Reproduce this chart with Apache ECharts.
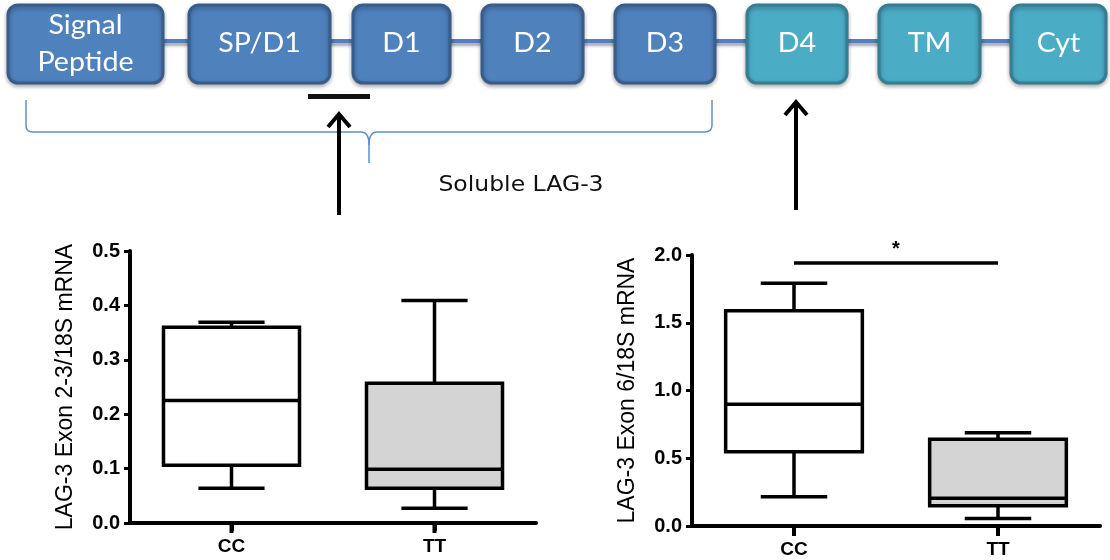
<!DOCTYPE html>
<html>
<head>
<meta charset="utf-8">
<script src="https://cdn.jsdelivr.net/npm/echarts@6/dist/echarts.min.js"></script>
<style>
  html, body { margin: 0; padding: 0; background: #fff; }
  #chart { width: 1110px; height: 560px; }
</style>
</head>
<body>
<div id="chart"></div>
<script>
// genotype groups on both x axes
const genotypes = ['CC', 'TT']
// box statistics per genotype: [min, Q1, median, Q3, max]
const exon23Box = [
  [0.064, 0.106, 0.225, 0.360, 0.369],
  [0.027, 0.064, 0.099, 0.257, 0.409]
]
const exon6Box = [
  [0.216, 0.548, 0.898, 1.589, 1.791],
  [0.056, 0.150, 0.204, 0.640, 0.689]
]
// y tick values
const exon23Ticks = [0, 0.1, 0.2, 0.3, 0.4, 0.5]
const exon6Ticks = [0, 0.5, 1.0, 1.5, 2.0]
// significance bar between CC and TT (exon 6)
const sigLevel = 1.94
const sigLabel = '*'

// LAG-3 domain schematic
const domainNames = ['Signal\nPeptide', 'SP/D1', 'D1', 'D2', 'D3', 'D4', 'TM', 'Cyt']
const solubleLabel = 'Soluble LAG-3'

// schematic layout (pixels)
const domainLeft = [8, 189, 353, 482, 615, 747, 879, 1011]
const domainRight = [163, 330, 450, 583, 715, 847, 980, 1106]
const boxFill = ['#ffffff', '#d4d4d4']
const FONT = 'Liberation Sans, Arial, sans-serif'

const chart = echarts.init(document.getElementById('chart'))

function renderBox (params, api) {
  const c = api.value(0)
  const pt = (i) => api.coord([c, api.value(i)])
  const lo = pt(1)
  const q1 = pt(2)
  const med = pt(3)
  const q3 = pt(4)
  const hi = pt(5)
  const band = api.size([1, 0])[0]
  const hb = band * 0.335
  const hc = band * 0.163
  const x = lo[0]
  const line = { stroke: '#000', lineWidth: 3.5 }
  return {
    type: 'group',
    children: [
      { type: 'line', shape: { x1: x, y1: hi[1], x2: x, y2: q3[1] }, style: line },
      { type: 'line', shape: { x1: x, y1: q1[1], x2: x, y2: lo[1] }, style: line },
      { type: 'line', shape: { x1: x - hc, y1: hi[1], x2: x + hc, y2: hi[1] }, style: line },
      { type: 'line', shape: { x1: x - hc, y1: lo[1], x2: x + hc, y2: lo[1] }, style: line },
      {
        type: 'rect',
        shape: { x: x - hb, y: q3[1], width: hb * 2, height: q1[1] - q3[1] },
        style: { fill: boxFill[c], stroke: '#000', lineWidth: 3.5 }
      },
      { type: 'line', shape: { x1: x - hb, y1: med[1], x2: x + hb, y2: med[1] }, style: line }
    ]
  }
}

function xAxisFor (gridIndex) {
  return {
    gridIndex: gridIndex,
    type: 'category',
    data: genotypes,
    boundaryGap: true,
    axisLine: { lineStyle: { color: '#000', width: 4 } },
    axisTick: {
      show: true,
      inside: false,
      alignWithLabel: true,
      interval: 0,
      length: 8,
      lineStyle: { color: '#000', width: 4 }
    },
    axisLabel: { color: '#000', fontFamily: FONT, fontWeight: 'bold', fontSize: 19, margin: 14 }
  }
}

function yAxisFor (gridIndex, ticks, name) {
  return {
    gridIndex: gridIndex,
    type: 'value',
    min: ticks[0],
    max: ticks[ticks.length - 1],
    interval: ticks[1] - ticks[0],
    name: name,
    nameLocation: 'middle',
    nameRotate: 90,
    nameGap: 53,
    nameTextStyle: { color: '#000', fontFamily: FONT, fontSize: 23 },
    axisLine: { show: true, lineStyle: { color: '#000', width: 4 } },
    axisTick: { show: true, length: 6, lineStyle: { color: '#000', width: 3 } },
    splitLine: { show: false },
    axisLabel: {
      color: '#000',
      fontFamily: FONT,
      fontWeight: 'bold',
      fontSize: 20,
      margin: 10,
      formatter: (v) => v.toFixed(1)
    }
  }
}

// category tick marks hanging under each x axis
function categoryTicks (axisIndex) {
  return {
    type: 'scatter',
    xAxisIndex: axisIndex,
    yAxisIndex: axisIndex,
    clip: false,
    silent: true,
    symbol: 'rect',
    symbolSize: [4, 10],
    symbolOffset: [0, 5],
    itemStyle: { color: '#000', opacity: 1 },
    z: 10,
    data: genotypes.map((g) => [g, 0])
  }
}

// schematic drawing
const graphics = []
graphics.push({
  type: 'line',
  shape: { x1: 160, y1: 41, x2: 1012, y2: 41 },
  style: { stroke: '#4F81BD', lineWidth: 4, shadowBlur: 3, shadowOffsetY: 3, shadowColor: 'rgba(0,0,0,0.35)' }
})
domainNames.forEach((name, i) => {
  const ext = i < 5
  const l = domainLeft[i]
  const r = domainRight[i]
  graphics.push({
    type: 'rect',
    shape: { x: l, y: 5, width: r - l, height: 78, r: 10 },
    style: {
      fill: ext ? '#4F81BD' : '#4BACC6',
      stroke: ext ? '#385D8A' : '#357D91',
      lineWidth: 3,
      shadowBlur: 4,
      shadowOffsetY: 2,
      shadowColor: 'rgba(0,0,0,0.3)'
    }
  })
  graphics.push({
    type: 'text',
    x: (l + r) / 2,
    y: 44,
    scaleX: 1.1,
    style: {
      text: name,
      fill: '#fff',
      fontFamily: 'Lato, sans-serif',
      fontSize: 26,
      lineHeight: 37,
      textAlign: 'center',
      align: 'center',
      textVerticalAlign: 'middle',
      verticalAlign: 'middle'
    }
  })
})
// epitope bar
graphics.push({ type: 'rect', shape: { x: 308, y: 94, width: 62, height: 5 }, style: { fill: '#111' } })
// soluble bracket, built from straight pieces and small curves
const bracketStyle = { stroke: '#5B8FD0', lineWidth: 1.5, fill: 'none' }
const seg = (x1, y1, x2, y2) => graphics.push({ type: 'line', shape: { x1, y1, x2, y2 }, style: bracketStyle })
const curve = (x1, y1, cpx1, cpy1, x2, y2) => graphics.push({
  type: 'bezierCurve', shape: { x1, y1, cpx1, cpy1, x2, y2 }, style: bracketStyle
})
seg(26, 100, 26, 126)
curve(26, 126, 26, 132, 33, 132)
seg(33, 132, 361, 132)
curve(361, 132, 369, 132, 369, 145)
curve(377, 132, 369, 132, 369, 145)
seg(369, 145, 369, 163)
seg(377, 132, 705, 132)
curve(705, 132, 712, 132, 712, 125)
seg(712, 125, 712, 100)
// arrows
const arrow = (x, top, bottom) => {
  graphics.push({ type: 'line', shape: { x1: x, y1: top + 2, x2: x, y2: bottom }, style: { stroke: '#000', lineWidth: 4 } })
  graphics.push({
    type: 'polyline',
    shape: { points: [[x - 11, top + 13], [x, top], [x + 11, top + 13]] },
    style: { stroke: '#000', lineWidth: 4, fill: 'none' }
  })
}
arrow(339, 114, 215)
arrow(796, 102, 210)
graphics.push({
  type: 'text',
  x: 521,
  y: 186,
  scaleX: 1.12,
  style: {
    text: solubleLabel,
    fill: '#111',
    fontFamily: 'DejaVu Sans, sans-serif',
    fontSize: 21,
    textAlign: 'center',
    align: 'center',
    textVerticalAlign: 'middle',
    verticalAlign: 'middle'
  }
})

chart.setOption({
  animation: false,
  backgroundColor: '#fff',
  grid: [
    { left: 130, top: 251, width: 406, height: 272 },
    { left: 692, top: 255, width: 408, height: 271 }
  ],
  xAxis: [xAxisFor(0), xAxisFor(1)],
  yAxis: [
    yAxisFor(0, exon23Ticks, 'LAG-3 Exon 2-3/18S mRNA'),
    yAxisFor(1, exon6Ticks, 'LAG-3 Exon 6/18S mRNA')
  ],
  graphic: graphics,
  series: [
    {
      type: 'custom',
      xAxisIndex: 0,
      yAxisIndex: 0,
      renderItem: renderBox,
      encode: { x: 0, y: [1, 2, 3, 4, 5] },
      data: exon23Box.map((b, i) => [i].concat(b))
    },
    {
      type: 'custom',
      xAxisIndex: 1,
      yAxisIndex: 1,
      renderItem: renderBox,
      encode: { x: 0, y: [1, 2, 3, 4, 5] },
      data: exon6Box.map((b, i) => [i].concat(b)),
      markLine: {
        silent: true,
        symbol: ['none', 'none'],
        lineStyle: { color: '#000', width: 3.5, type: 'solid' },
        emphasis: { disabled: true },
        label: {
          show: true,
          position: 'middle',
          formatter: sigLabel,
          color: '#000',
          fontFamily: FONT,
          fontWeight: 'bold',
          fontSize: 20,
          distance: 4
        },
        data: [[{ coord: [genotypes[0], sigLevel] }, { coord: [genotypes[1], sigLevel] }]]
      }
    },
    categoryTicks(0),
    categoryTicks(1)
  ]
})
</script>
</body>
</html>
